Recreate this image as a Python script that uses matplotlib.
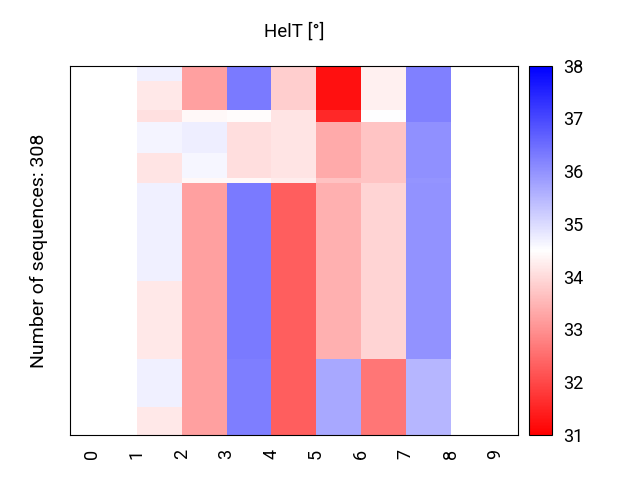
import numpy as np
import matplotlib
matplotlib.use("Agg")
import matplotlib.pyplot as plt

plt.rcParams['font.family'] = ['Roboto', 'DejaVu Sans']

# rows per block of sequences (top to bottom), total 308
block_rows = [13, 24, 10, 26, 21, 4, 82, 65, 40, 23]

# HelT per position (columns 0..9), one value per block; nan = no data
pos0 = [np.nan] * 10
pos1 = [34.71, 34.18, 34.07, 34.64, 34.13, 34.13, 34.71, 34.18, 34.71, 34.18]
pos2 = [33.2, 33.2, 34.4, 34.73, 34.62, 34.4, 33.2, 33.2, 33.2, 33.2]
pos3 = [36.33, 36.33, 34.45, 34.06, 34.06, 34.4, 36.33, 36.33, 36.26, 36.26]
pos4 = [33.84, 33.84, 34.13, 34.13, 34.13, 34.25, 32.3, 32.3, 32.3, 32.3]
pos5 = [31.22, 31.22, 31.55, 33.33, 33.33, 33.66, 33.41, 33.41, 35.69, 35.69]
pos6 = [34.29, 34.29, 34.5, 33.69, 33.69, 33.7, 33.91, 33.91, 32.63, 32.63]
pos7 = [36.24, 36.24, 36.24, 36.02, 36.02, 35.97, 36.0, 36.0, 35.51, 35.51]
pos8 = [np.nan] * 10
pos9 = [np.nan] * 10

positions = list(range(10))
n_seq = sum(block_rows)

cols = [pos0, pos1, pos2, pos3, pos4, pos5, pos6, pos7, pos8, pos9]
mat = np.column_stack([np.repeat(c, block_rows) for c in cols])

fig = plt.figure(figsize=(6.4, 4.8), dpi=100)
ax = fig.add_axes([0.109, 0.094, 0.700, 0.769])
cax = fig.add_axes([0.827, 0.094, 0.035, 0.769])

xe = np.arange(11)
ye = np.arange(n_seq + 1)
mesh = ax.pcolormesh(xe, ye, np.ma.masked_invalid(mat), cmap='bwr_r',
                     vmin=31, vmax=38)
ax.set_xlim(-0.5, 9.5)
ax.set_ylim(n_seq, 0)
ax.set_xticks(positions)
ax.set_xticklabels([str(p) for p in positions], rotation=90, fontsize=13)
ax.tick_params(axis='x', length=0, pad=10)
ax.set_yticks([])
ax.set_ylabel('Number of sequences: %d' % n_seq, fontsize=14, labelpad=16)
ax.set_title('HelT [°]', fontsize=13.5, pad=21)

cb = fig.colorbar(mesh, cax=cax)
cb.set_ticks(range(31, 39))
cb.ax.tick_params(labelsize=13, length=0, pad=8)

fig.savefig('out.png', dpi=100)
